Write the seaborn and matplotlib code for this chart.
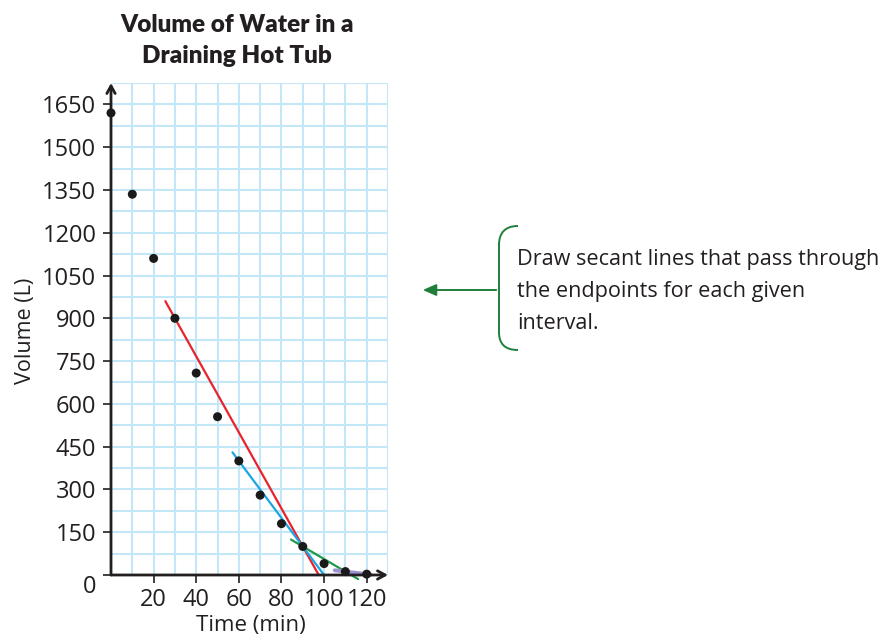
import numpy as np
import pandas as pd
import matplotlib
matplotlib.use('Agg')
import matplotlib.pyplot as plt
import seaborn as sns
from matplotlib.path import Path
from matplotlib.patches import PathPatch
from matplotlib.ticker import FixedLocator, MultipleLocator

# data
time_min = [0, 10, 20, 30, 40, 50, 60, 70, 80, 90, 100, 110, 120]
volume_l = [1620, 1335, 1110, 900, 708, 555, 400, 280, 180, 100, 40, 12, 3]

# secant intervals (endpoints) and how far each drawn line runs
secant_a = [30, 60, 90, 110]
secant_b = [90, 90, 110, 120]
draw_from = [25.5, 57, 84.5, 105]
draw_to = [97.5, 100, 116, 122]
secant_colors = ['#e8232b', '#1ba6e2', '#1f9a4b', '#9a92d2']

x_ticks = [20, 40, 60, 80, 100, 120]
y_ticks = list(range(0, 1651, 150))

df = pd.DataFrame({'Time': time_min, 'Volume': volume_l})

sns.set_style('white')
plt.rcParams['font.family'] = ['Open Sans', 'DejaVu Sans']
ink = '#231f20'

W, H = 885, 639
fig = plt.figure(figsize=(W / 100, H / 100), dpi=100)
ax = fig.add_axes([111 / W, 1 - 575 / H, 277 / W, 492 / H])

# secant lines
vol = dict(zip(time_min, volume_l))
for a, b, x0, x1, c in zip(secant_a, secant_b, draw_from, draw_to, secant_colors):
    slope = (vol[b] - vol[a]) / (b - a)
    xs = np.array([x0, x1])
    ys = vol[a] + slope * (xs - a)
    lw = 2.8 if a == 110 else 1.6
    sns.lineplot(x=xs, y=ys, color=c, lw=lw, ax=ax, clip_on=False, zorder=3)

sns.scatterplot(data=df, x='Time', y='Volume', color='#1a1a1a', s=42,
                edgecolor='none', ax=ax, zorder=5, clip_on=False)

ax.set_xlim(0, 130)
ax.set_ylim(0, 1725)
ax.xaxis.set_major_locator(FixedLocator(x_ticks))
ax.xaxis.set_minor_locator(MultipleLocator(10))
ax.yaxis.set_major_locator(FixedLocator(y_ticks))
ax.yaxis.set_minor_locator(MultipleLocator(75))
ax.grid(which='both', color='#c4e7f8', lw=1.5)
ax.set_axisbelow(True)
ax.tick_params(which='minor', length=0)
ax.tick_params(axis='both', which='major', bottom=True, left=True, direction='out',
               length=5.5, width=1.2, color=ink, labelcolor=ink, labelsize=17)
ax.tick_params(axis='x', pad=4)
ax.tick_params(axis='y', pad=5)
ax.yaxis.get_major_ticks()[0].label1.set_verticalalignment('top')
ax.set_xlabel('')
ax.set_ylabel('')
for s in ax.spines.values():
    s.set_visible(False)

# axes with open arrow heads
arrow = dict(arrowstyle='->,head_length=0.55,head_width=0.3', lw=2, color=ink,
             shrinkA=0, shrinkB=0)
ax.annotate('', xy=(0, 1.0), xytext=(0, 0), xycoords='axes fraction', arrowprops=arrow)
ax.annotate('', xy=(1.0, 0), xytext=(0, 0), xycoords='axes fraction', arrowprops=arrow)

# titles and axis labels
title_font = ['Lato', 'DejaVu Sans']
fig.text(237 / W, 1 - 32 / H, 'Volume of Water in a', ha='center', va='baseline',
         fontsize=17.5, fontweight='heavy', family=title_font, color=ink)
fig.text(237 / W, 1 - 63 / H, 'Draining Hot Tub', ha='center', va='baseline',
         fontsize=17.5, fontweight='heavy', family=title_font, color=ink)
fig.text(251 / W, 1 - 625 / H, 'Time (min)', ha='center', va='center', fontsize=16, color=ink)
fig.text(25 / W, 1 - 331 / H, 'Volume (L)', ha='center', va='center', rotation=90,
         fontsize=15.5, color=ink)

# side note with brace and arrow
green = '#1f7f3a'
def fp(x, y):
    return (x / W, 1 - y / H)

verts = [fp(518, 226), fp(505, 226), fp(499, 233), fp(499, 245),
         fp(499, 332), fp(499, 344), fp(505, 350), fp(518, 350)]
codes = [Path.MOVETO, Path.CURVE4, Path.CURVE4, Path.CURVE4,
         Path.LINETO, Path.CURVE4, Path.CURVE4, Path.CURVE4]
fig.patches.append(PathPatch(Path(verts, codes), transform=fig.transFigure,
                             fill=False, edgecolor=green, lw=1.4))
fig.add_artist(matplotlib.patches.FancyArrowPatch(
    fp(499, 290), fp(420, 290), transform=fig.transFigure,
    arrowstyle='-|>,head_length=8,head_width=3.5', color=green, lw=1.4))

note_lines = ['Draw secant lines that pass through', 'the endpoints for each given', 'interval.']
for i, t in enumerate(note_lines):
    fig.text(517 / W, 1 - (265 + 32 * i) / H, t, ha='left', va='baseline',
             fontsize=15.6, color=ink)

fig.savefig('out.png', dpi=100)
